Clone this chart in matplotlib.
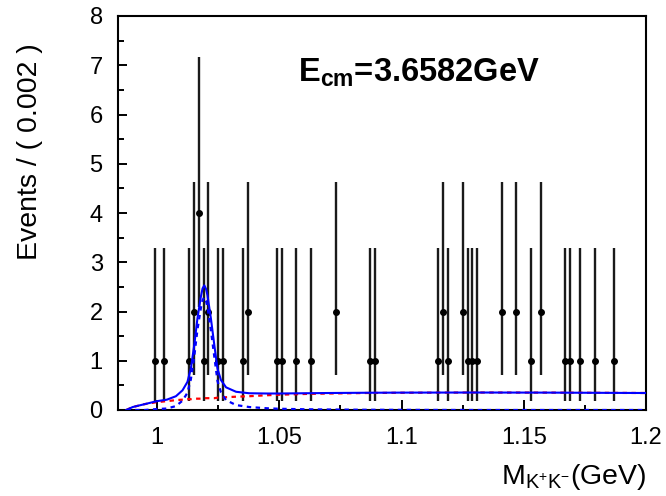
import numpy as np
import matplotlib
matplotlib.use("Agg")
import matplotlib.pyplot as plt
from matplotlib.ticker import MultipleLocator, FixedLocator

plt.rcParams['font.family'] = ['Liberation Sans', 'DejaVu Sans']
plt.rcParams['mathtext.fontset'] = 'custom'
plt.rcParams['mathtext.rm'] = 'Liberation Sans'
plt.rcParams['mathtext.it'] = 'Liberation Sans:italic'
plt.rcParams['mathtext.bf'] = 'Liberation Sans:bold'

# binned data, bin width 0.002 GeV (only non-empty bins)
bin_x = [0.999, 1.003, 1.013, 1.015, 1.017, 1.019, 1.021, 1.025, 1.027,
         1.035, 1.037, 1.049, 1.051, 1.057, 1.063, 1.073, 1.087, 1.089,
         1.115, 1.117, 1.119, 1.125, 1.127, 1.129, 1.131, 1.141, 1.147,
         1.153, 1.157, 1.167, 1.169, 1.173, 1.179, 1.187]
counts = [1, 1, 1, 2, 4, 1, 2, 1, 1,
          1, 2, 1, 1, 1, 1, 2, 1, 1,
          1, 2, 1, 2, 1, 1, 1, 2, 2,
          1, 2, 1, 1, 1, 1, 1]

# asymmetric poisson errors for n = 1, 2, 4
poisson_n = [1, 2, 4]
poisson_lo = [0.827, 1.291, 1.914]
poisson_hi = [2.299, 2.638, 3.162]

# fit curves
curve_x = [0.9874, 0.990, 0.995, 1.000, 1.004, 1.0077, 1.0104, 1.0124,
           1.0138, 1.0152, 1.0165, 1.0179, 1.0186, 1.0193, 1.0200, 1.0206,
           1.0220, 1.0234, 1.0247, 1.0261, 1.0282, 1.0323, 1.0377, 1.045,
           1.050, 1.060, 1.070, 1.085, 1.100, 1.130, 1.160, 1.200]
total_y = [0.00, 0.06, 0.12, 0.18, 0.21, 0.28, 0.40, 0.57,
           0.84, 1.32, 1.86, 2.30, 2.47, 2.53, 2.46, 2.33,
           1.86, 1.32, 0.84, 0.61, 0.46, 0.37, 0.34, 0.335,
           0.335, 0.34, 0.345, 0.35, 0.353, 0.355, 0.353, 0.345]
bkg_y = [0.00, 0.06, 0.12, 0.16, 0.18, 0.20, 0.21, 0.22,
         0.22, 0.23, 0.23, 0.23, 0.235, 0.24, 0.24, 0.24,
         0.24, 0.24, 0.25, 0.25, 0.26, 0.27, 0.28, 0.30,
         0.31, 0.325, 0.335, 0.345, 0.35, 0.355, 0.353, 0.345]
sig_y = [0.00, 0.00, 0.00, 0.02, 0.03, 0.08, 0.19, 0.35,
         0.62, 1.09, 1.63, 2.07, 2.23, 2.29, 2.22, 2.09,
         1.62, 1.08, 0.59, 0.36, 0.20, 0.10, 0.06, 0.035,
         0.025, 0.015, 0.01, 0.005, 0.003, 0.0, 0.0, 0.0]

lo = [poisson_lo[poisson_n.index(n)] for n in counts]
hi = [poisson_hi[poisson_n.index(n)] for n in counts]

fig = plt.figure(figsize=(6.66, 4.96), dpi=100)
ax = fig.add_axes([118/666, 1-410/496, (646-118)/666, (410-16)/496])

ax.errorbar(bin_x, counts, yerr=[lo, hi], fmt='o', color='black',
            ecolor='#1a1a1a', elinewidth=1.7, markersize=4, capsize=0, zorder=2)

ax.plot(curve_x, bkg_y, color='red', lw=1.6, ls=(0, (2, 2)), zorder=3)
ax.plot(curve_x, sig_y, color='blue', lw=1.6, ls=(0, (2, 2)), zorder=4)
ax.plot(curve_x, total_y, color='blue', lw=1.5, zorder=5)

ax.set_xlim(0.984, 1.2)
ax.set_ylim(0, 8)

ax.xaxis.set_major_locator(FixedLocator([1.0, 1.05, 1.1, 1.15, 1.2]))
ax.set_xticklabels(['1', '1.05', '1.1', '1.15', '1.2'])
ax.xaxis.set_minor_locator(FixedLocator([1.025, 1.075, 1.125, 1.175]))
ax.yaxis.set_major_locator(MultipleLocator(1))
ax.yaxis.set_minor_locator(MultipleLocator(0.5))

ax.tick_params(axis='both', which='both', direction='in', top=False, right=False,
               width=1.4, color='black')
ax.tick_params(axis='x', which='major', length=7, pad=12, labelsize=17)
ax.tick_params(axis='x', which='minor', length=3.8)
ax.tick_params(axis='y', which='major', length=6.5, pad=11, labelsize=17)
ax.tick_params(axis='y', which='minor', length=4)
for sp in ax.spines.values():
    sp.set_linewidth(1.5)

fig.text(30/666, 1-152/496, 'Events / ( 0.002 )', rotation=90,
         ha='center', va='center', fontsize=20.5)
fig.text(646/666, 1-484/496, r'M$_{\mathrm{K^{+}K^{-}}}$(GeV)',
         ha='right', va='baseline', fontsize=20.5)
ax.text(298/666, 1-82/496, r'$\mathbf{E}_{\mathbf{cm}}$=3.6582GeV',
        transform=fig.transFigure, ha='left', va='baseline',
        fontsize=23.5, fontweight='bold')

fig.savefig('out.png', dpi=100)
